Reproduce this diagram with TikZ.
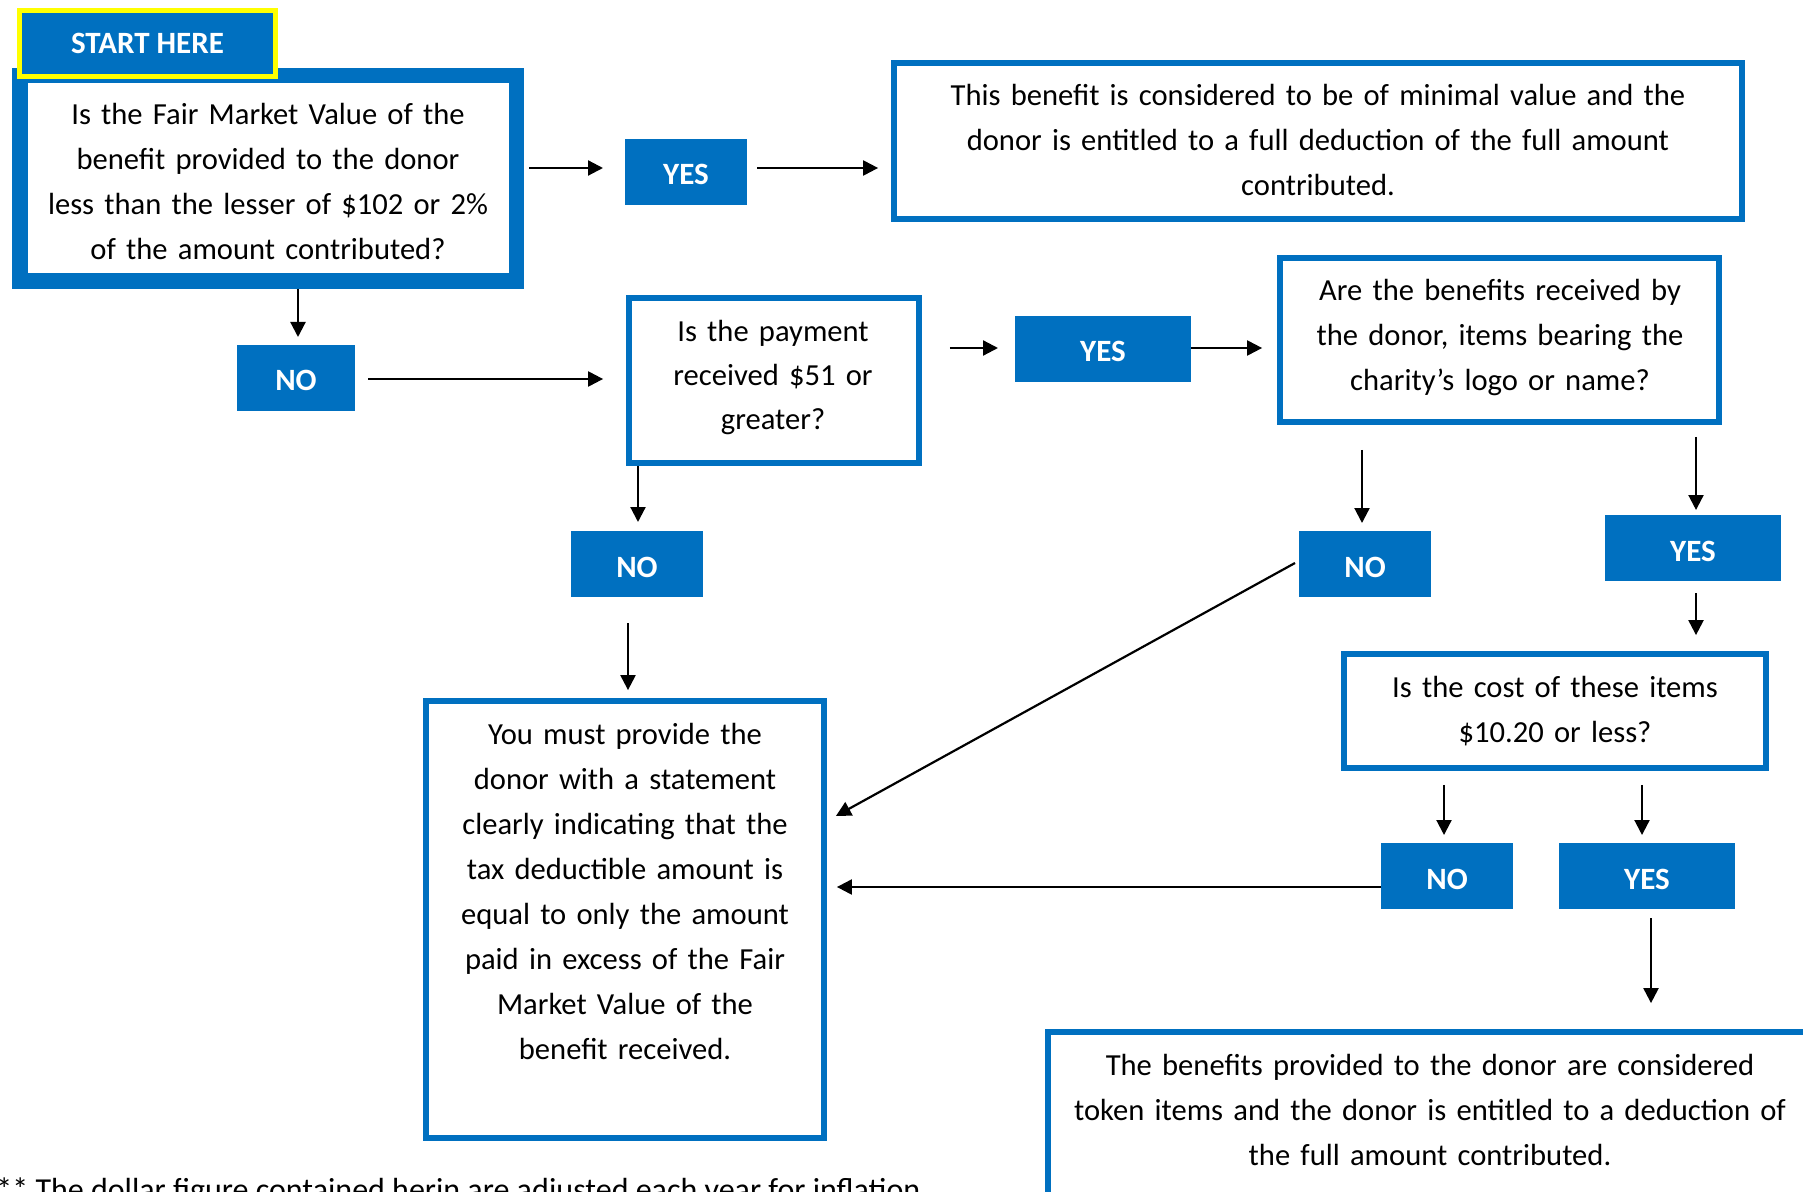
\documentclass[tikz,border=0pt]{standalone}
\usepackage{fontspec}
\setmainfont{Carlito}
\usetikzlibrary{fit,calc,arrows.meta}
\definecolor{obl}{RGB}{0,112,192}
\definecolor{ylw}{RGB}{255,255,0}
\begin{document}
\begin{tikzpicture}[x=0.5pt,y=-0.5pt,
  qbox/.style={draw=obl, line width=2.9pt, inner sep=0pt},
  lbl/.style={fill=obl, inner sep=0pt, outer sep=0pt, text=white, minimum height=33pt,
    font=\fontsize{15.5pt}{18pt}\selectfont\bfseries, text height=13pt, text depth=0pt},
  txt/.style={inner sep=0pt, anchor=base, align=center, text width=400pt,
    font=\fontsize{15.3pt}{22.5pt}\selectfont},
  arr/.style={draw=black, line width=1.1pt, -{Triangle[length=7.5pt,width=7.5pt]}}]
\useasboundingbox (0,0) rectangle (1803,1192);
\clip (0,0) rectangle (1803,1192);

% question / result boxes
\node[qbox, line width=7.75pt, fit={(19.75,75.75) (516.25,281.25)}] (q1) {};
\node[draw=ylw, line width=2.5pt, fill=obl, inner sep=0pt, text=white,
  minimum width=128pt, minimum height=33pt,
  font=\fontsize{15.5pt}{18pt}\selectfont\bfseries, text height=10.5pt, text depth=0pt]
  (start) at (147.5,43.5) {START HERE};
\node[qbox, fit={(894,63) (1742,219)}] (q2) {};
\node[qbox, fit={(629,298) (919,463)}] (q3) {};
\node[qbox, fit={(1280,258) (1719,422)}] (q4) {};
\node[qbox, fit={(1344,654) (1766,768)}] (q5) {};
\node[qbox, fit={(426,701) (824,1138)}] (q6) {};
\node[qbox, fit={(1048,1032) (1812,1227)}] (q7) {};

% texts
\node[txt] (t1) at (268,125) {Is the Fair Market Value of the\\benefit provided to the donor\\less than the lesser of \$102 or 2\%\\of the amount contributed?};
\node[txt] (t2) at (1318,106) {This benefit is considered to be of minimal value and the\\donor is entitled to a full deduction of the full amount\\contributed.};
\node[txt, font=\fontsize{15.3pt}{22pt}\selectfont] (t3) at (773,342) {Is the payment\\received \$51 or\\greater?};
\node[txt] (t4) at (1500,301) {Are the benefits received by\\the donor, items bearing the\\charity’s logo or name?};
\node[txt] (t5) at (1555,697) {Is the cost of these items\\\$10.20 or less?};
\node[txt] (t6) at (625,744) {You must provide the\\donor with a statement\\clearly indicating that the\\tax deductible amount is\\equal to only the amount\\paid in excess of the Fair\\Market Value of the\\benefit received.};
\node[txt] (t7) at (1430,1075) {The benefits provided to the donor are considered\\token items and the donor is entitled to a deduction of\\the full amount contributed.};
\node[inner sep=0pt, anchor=base west, font=\fontsize{16pt}{18pt}\selectfont] (foot) at (-4,1200) {** The dollar figure contained herin are adjusted each year for inflation};

% YES / NO labels
\node[lbl, minimum width=61pt] (yes1) at (686,172) {YES};
\node[lbl, minimum width=59pt] (no1) at (296,378) {NO};
\node[lbl, minimum width=66pt] (nop) at (637,564) {NO};
\node[lbl, minimum width=88pt] (yes2) at (1103,349) {YES};
\node[lbl, minimum width=66pt] (no2) at (1365,564) {NO};
\node[lbl, minimum width=88pt] (yes3) at (1693,548) {YES};
\node[lbl, minimum width=66pt] (no3) at (1447,876) {NO};
\node[lbl, minimum width=88pt] (yes4) at (1647,876) {YES};

% connectors
\draw[arr, shorten <=2.5pt, shorten >=11pt] (q1.east |- 0,168) -- (yes1.west |- 0,168);
\draw[arr, shorten <=5pt, shorten >=6.5pt] (yes1.east |- 0,168) -- (q2.west |- 0,168);
\draw[arr, shorten >=4pt] (q1.south -| 298,0) -- (no1.north -| 298,0);
\draw[arr, shorten <=6.5pt, shorten >=11.5pt] (no1.east |- 0,379) -- (q3.west |- 0,379);
\draw[arr, shorten >=4.5pt] (q3.south -| 638,0) -- (nop.north -| 638,0);
\draw[arr, shorten <=13pt, shorten >=4pt] (nop.south -| 628,0) -- (q6.north -| 628,0);
\draw[arr, shorten <=14pt, shorten >=8.5pt] (q3.east |- 0,348) -- (yes2.west |- 0,348);
\draw[arr, shorten >=7.5pt] (yes2.east |- 0,348) -- (q4.west |- 0,348);
\draw[arr, shorten <=12.5pt, shorten >=4pt] (q4.south -| 1362,0) -- (no2.north -| 1362,0);
\draw[arr, shorten <=6pt, shorten >=2.5pt] (q4.south -| 1696,0) -- (yes3.north -| 1696,0);
\draw[arr, shorten <=6pt, shorten >=8pt] (yes3.south -| 1696,0) -- (q5.north -| 1696,0);
\draw[arr] ($(no2.west |- 0,563)+(-4,0)$) -- ($(q6.east |- 0,816)+(9,0)$);
\draw[arr, shorten <=7pt, shorten >=4pt] (q5.south -| 1444,0) -- (no3.north -| 1444,0);
\draw[arr, shorten <=7pt, shorten >=4pt] (q5.south -| 1642,0) -- (yes4.north -| 1642,0);
\draw[arr, shorten >=5pt] (no3.west |- 0,887) -- (q6.east |- 0,887);
\draw[arr, shorten <=4.5pt, shorten >=13pt] (yes4.south -| 1651,0) -- (q7.north -| 1651,0);
\end{tikzpicture}
\end{document}
